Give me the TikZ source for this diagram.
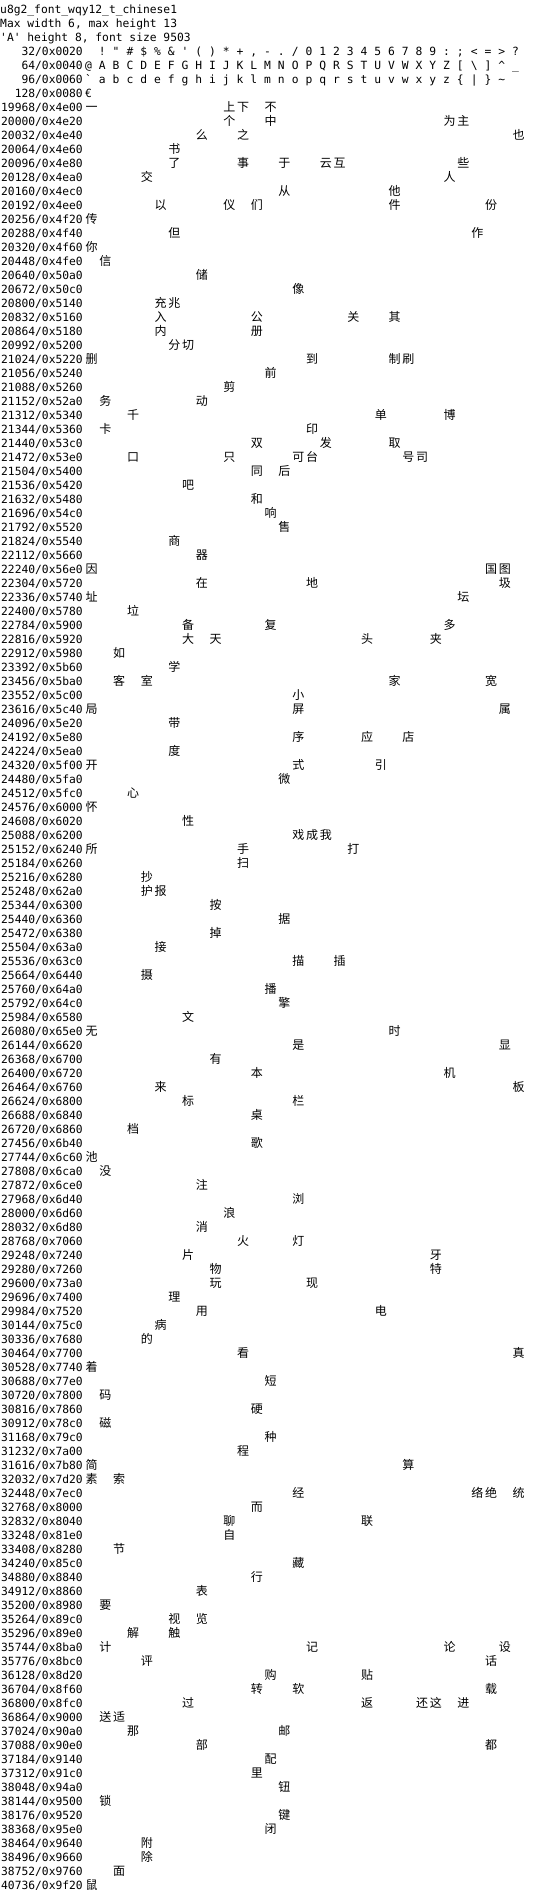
\documentclass[tikz,border=0pt]{standalone}
\usepackage{fontspec}
\setmonofont{DejaVu Sans Mono}
\newfontfamily\cjk{Noto Sans CJK SC}
\tikzset{
  headline/.style={anchor=base west, inner sep=0pt, font=\ttfamily\fontsize{11.3}{13}\selectfont},
  rowlab/.style={anchor=base east, inner sep=0pt, font=\ttfamily\fontsize{11.3}{13}\selectfont},
  ascii/.style={anchor=base west, inner sep=0pt, font=\ttfamily\fontsize{11.3}{13}\selectfont},
  hanzi/.style={anchor=base west, inner sep=0pt, font=\cjk\fontsize{12}{14}\selectfont}
}

\begin{document}
\begin{tikzpicture}[x=1pt, y=-1pt]
    \useasboundingbox (0,0) rectangle (533,1890);

    \node[headline] (title) at (0,13) {u8g2\_font\_wqy12\_t\_chinese1};
    \node[headline] (dims) at (0,27) {Max width 6, max height 13};
    \node[headline] (size) at (0,41) {'A' height 8, font size 9503};

    \foreach \base/\hex/\first/\last [count=\r from 4] in {32/0020/1/31, 64/0040/0/31, 96/0060/0/30}{
        \node[rowlab] (lab\base) at (83, 14*\r-1) {\base/0x\hex};
        \foreach \c in {\first,...,\last}
            \node[ascii] (g\base-\c) at (85+13.77*\c, 14*\r-1) {\char\numexpr\base+\c\relax};
    }
    \node[rowlab] (lab128) at (83, 55+14*3) {128/0x0080};
    \node[ascii] (g128-0) at (85, 55+14*3) {€};

    % one row per block of 32 code points: base / hex / column/glyph
    \foreach \base/\hex/\cols [count=\r from 8] in {
        19968/4e00/{0/一,10/上,11/下,13/不},
        20000/4e20/{10/个,13/中,26/为,27/主},
        20032/4e40/{8/么,11/之,31/也},
        20064/4e60/{6/书},
        20096/4e80/{6/了,11/事,14/于,17/云,18/互,27/些},
        20128/4ea0/{4/交,26/人},
        20160/4ec0/{14/从,22/他},
        20192/4ee0/{5/以,10/仪,12/们,22/件,29/份},
        20256/4f20/{0/传},
        20288/4f40/{6/但,28/作},
        20320/4f60/{0/你},
        20448/4fe0/{1/信},
        20640/50a0/{8/储},
        20672/50c0/{15/像},
        20800/5140/{5/充,6/兆},
        20832/5160/{5/入,12/公,19/关,22/其},
        20864/5180/{5/内,12/册},
        20992/5200/{6/分,7/切},
        21024/5220/{0/删,16/到,22/制,23/刷},
        21056/5240/{13/前},
        21088/5260/{10/剪},
        21152/52a0/{1/务,8/动},
        21312/5340/{3/千,21/单,26/博},
        21344/5360/{1/卡,16/印},
        21440/53c0/{12/双,17/发,22/取},
        21472/53e0/{3/口,10/只,15/可,16/台,23/号,24/司},
        21504/5400/{12/同,14/后},
        21536/5420/{7/吧},
        21632/5480/{12/和},
        21696/54c0/{13/响},
        21792/5520/{14/售},
        21824/5540/{6/商},
        22112/5660/{8/器},
        22240/56e0/{0/因,29/国,30/图},
        22304/5720/{8/在,16/地,30/圾},
        22336/5740/{0/址,27/坛},
        22400/5780/{3/垃},
        22784/5900/{7/备,13/复,26/多},
        22816/5920/{7/大,9/天,20/头,25/夹},
        22912/5980/{2/如},
        23392/5b60/{6/学},
        23456/5ba0/{2/客,4/室,22/家,29/宽},
        23552/5c00/{15/小},
        23616/5c40/{0/局,15/屏,30/属},
        24096/5e20/{6/带},
        24192/5e80/{15/序,20/应,23/店},
        24224/5ea0/{6/度},
        24320/5f00/{0/开,15/式,21/引},
        24480/5fa0/{14/微},
        24512/5fc0/{3/心},
        24576/6000/{0/怀},
        24608/6020/{7/性},
        25088/6200/{15/戏,16/成,17/我},
        25152/6240/{0/所,11/手,19/打},
        25184/6260/{11/扫},
        25216/6280/{4/抄},
        25248/62a0/{4/护,5/报},
        25344/6300/{9/按},
        25440/6360/{14/据},
        25472/6380/{9/掉},
        25504/63a0/{5/接},
        25536/63c0/{15/描,18/插},
        25664/6440/{4/摄},
        25760/64a0/{13/播},
        25792/64c0/{14/擎},
        25984/6580/{7/文},
        26080/65e0/{0/无,22/时},
        26144/6620/{15/是,30/显},
        26368/6700/{9/有},
        26400/6720/{12/本,26/机},
        26464/6760/{5/来,31/板},
        26624/6800/{7/标,15/栏},
        26688/6840/{12/桌},
        26720/6860/{3/档},
        27456/6b40/{12/歌},
        27744/6c60/{0/池},
        27808/6ca0/{1/没},
        27872/6ce0/{8/注},
        27968/6d40/{15/浏},
        28000/6d60/{10/浪},
        28032/6d80/{8/消},
        28768/7060/{11/火,15/灯},
        29248/7240/{7/片,25/牙},
        29280/7260/{9/物,25/特},
        29600/73a0/{9/玩,16/现},
        29696/7400/{6/理},
        29984/7520/{8/用,21/电},
        30144/75c0/{5/病},
        30336/7680/{4/的},
        30464/7700/{11/看,31/真},
        30528/7740/{0/着},
        30688/77e0/{13/短},
        30720/7800/{1/码},
        30816/7860/{12/硬},
        30912/78c0/{1/磁},
        31168/79c0/{13/种},
        31232/7a00/{11/程},
        31616/7b80/{0/简,23/算},
        32032/7d20/{0/素,2/索},
        32448/7ec0/{15/经,28/络,29/绝,31/统},
        32768/8000/{12/而},
        32832/8040/{10/聊,20/联},
        33248/81e0/{10/自},
        33408/8280/{2/节},
        34240/85c0/{15/藏},
        34880/8840/{12/行},
        34912/8860/{8/表},
        35200/8980/{1/要},
        35264/89c0/{6/视,8/览},
        35296/89e0/{3/解,6/触},
        35744/8ba0/{1/计,16/记,26/论,30/设},
        35776/8bc0/{4/评,29/话},
        36128/8d20/{13/购,20/贴},
        36704/8f60/{12/转,15/软,29/载},
        36800/8fc0/{7/过,20/返,24/还,25/这,27/进},
        36864/9000/{1/送,2/适},
        37024/90a0/{3/那,14/邮},
        37088/90e0/{8/部,29/都},
        37184/9140/{13/配},
        37312/91c0/{12/里},
        38048/94a0/{14/钮},
        38144/9500/{1/锁},
        38176/9520/{14/键},
        38368/95e0/{13/闭},
        38464/9640/{4/附},
        38496/9660/{4/除},
        38752/9760/{2/面},
        40736/9f20/{0/鼠}}{
        \node[rowlab] (lab\base) at (83, 14*\r-1) {\base/0x\hex};
        \foreach \c/\g in \cols
            \node[hanzi] (g\base-\c) at (85.5+13.77*\c, 14*\r-1) {\g};
    }
\end{tikzpicture}
\end{document}
